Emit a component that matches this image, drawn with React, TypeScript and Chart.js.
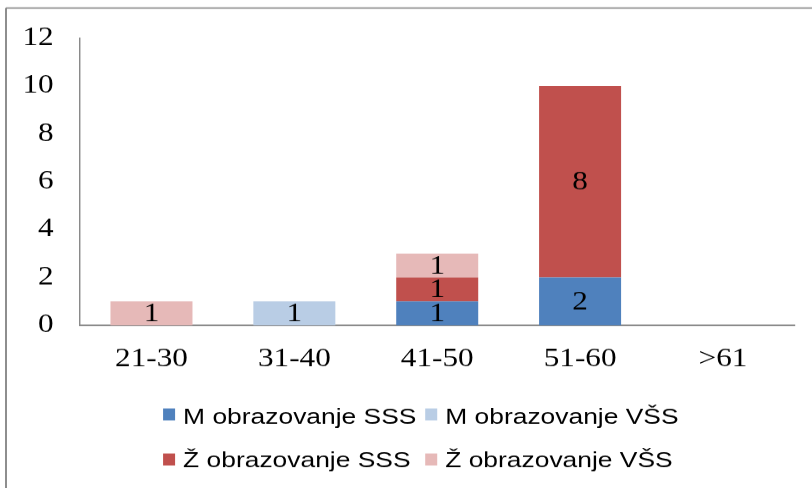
import React, { useEffect, useRef } from 'react';
import { Chart, registerables } from 'chart.js';

Chart.register(...registerables);

// ---- data ----
const categories = ['21-30', '31-40', '41-50', '51-60', '>61'];
const mSSS = [0, 0, 1, 2, 0];
const mVSS = [0, 1, 0, 0, 0];
const zSSS = [0, 0, 1, 8, 0];
const zVSS = [1, 0, 1, 0, 0];
const seriesNames = ['M obrazovanje SSS', 'M obrazovanje VŠS', 'Ž obrazovanje SSS', 'Ž obrazovanje VŠS'];
const seriesColors = ['#4F81BD', '#B9CDE5', '#C0504D', '#E6B9B8'];
const yMin = 0;
const yMax = 12;
const yStep = 2;

// ---- layout (reference is horizontally stretched, so draw narrow and stretch via CSS) ----
const VIEW_W = 812;
const VIEW_H = 488;
const CANVAS_W = 677;
const SX = VIEW_W / CANVAS_W;
const lx = (x: number) => x / SX;

const SERIF = "'Liberation Serif', 'Times New Roman', serif";
const SANS = "'Liberation Sans', Arial, sans-serif";

const framePlugin = {
  id: 'frame',
  beforeDraw(chart: any) {
    const ctx = chart.ctx;
    ctx.save();
    ctx.strokeStyle = '#8a8a8a';
    ctx.lineWidth = 1.6;
    ctx.beginPath();
    ctx.moveTo(lx(6), 8);
    ctx.lineTo(chart.width + 2, 8);
    ctx.moveTo(lx(6), 8);
    ctx.lineTo(lx(6), chart.height + 2);
    ctx.stroke();
    ctx.restore();
  },
};

const valueLabelPlugin = {
  id: 'valueLabels',
  afterDatasetsDraw(chart: any) {
    const ctx = chart.ctx;
    ctx.save();
    ctx.font = `26px ${SERIF}`;
    ctx.fillStyle = '#000';
    ctx.textAlign = 'center';
    ctx.textBaseline = 'middle';
    chart.data.datasets.forEach((ds: any, di: number) => {
      const meta = chart.getDatasetMeta(di);
      meta.data.forEach((el: any, i: number) => {
        const v = ds.data[i];
        if (!v) return;
        const { x, y, base } = el.getProps(['x', 'y', 'base'], true);
        ctx.fillText(String(v), x, (y + base) / 2 + 1);
      });
    });
    ctx.restore();
  },
};

const legendPlugin = {
  id: 'customLegend',
  afterDraw(chart: any) {
    const ctx = chart.ctx;
    const colX = [163, 425];
    const boxTop = [408, 453];
    const baseline = [423, 467];
    ctx.save();
    ctx.font = `22px ${SANS}`;
    ctx.textAlign = 'left';
    ctx.textBaseline = 'alphabetic';
    chart.data.datasets.forEach((ds: any, i: number) => {
      const c = i % 2;
      const r = Math.floor(i / 2);
      ctx.fillStyle = ds.backgroundColor;
      ctx.fillRect(lx(colX[c]), boxTop[r], lx(12), 12);
      ctx.fillStyle = '#000';
      ctx.fillText(ds.label, lx(colX[c] + 20), baseline[r]);
    });
    ctx.restore();
  },
};

export default function App() {
  const ref = useRef<HTMLCanvasElement>(null);

  useEffect(() => {
    document.body.style.margin = '0';
    const seriesData = [mSSS, mVSS, zSSS, zVSS];
    const chart = new Chart(ref.current as HTMLCanvasElement, {
      type: 'bar',
      data: {
        labels: categories,
        datasets: seriesData.map((d, i) => ({
          label: seriesNames[i],
          data: d,
          backgroundColor: seriesColors[i],
          borderWidth: 0,
          barPercentage: 1,
          categoryPercentage: 0.574,
        })),
      },
      options: {
        responsive: false,
        animation: false,
        devicePixelRatio: 1.2,
        layout: {
          padding: { left: 0, top: 38, right: CANVAS_W - lx(794), bottom: 0 },
        },
        plugins: {
          legend: { display: false },
          tooltip: { enabled: false },
        },
        scales: {
          x: {
            stacked: true,
            grid: { display: false, drawTicks: false },
            border: { display: true, color: '#8a8a8a', width: 1.6 },
            ticks: {
              font: { family: SERIF, size: 26 },
              color: '#000',
              padding: 18,
              maxRotation: 0,
              autoSkip: false,
            },
            afterFit: (s: any) => {
              s.height = VIEW_H - 325;
            },
          },
          y: {
            stacked: true,
            min: yMin,
            max: yMax,
            grid: { display: false, drawTicks: false },
            border: { display: true, color: '#8a8a8a', width: 1.2 },
            ticks: {
              stepSize: yStep,
              font: { family: SERIF, size: 26 },
              color: '#000',
              padding: 22,
            },
            afterFit: (s: any) => {
              s.width = lx(80);
            },
          },
        },
      },
      plugins: [framePlugin, valueLabelPlugin, legendPlugin],
    });
    return () => chart.destroy();
  }, []);

  return (
    <canvas
      ref={ref}
      width={CANVAS_W}
      height={VIEW_H}
      style={{
        position: 'fixed',
        left: 0,
        top: 0,
        width: VIEW_W + 'px',
        height: VIEW_H + 'px',
        display: 'block',
      }}
    />
  );
}
